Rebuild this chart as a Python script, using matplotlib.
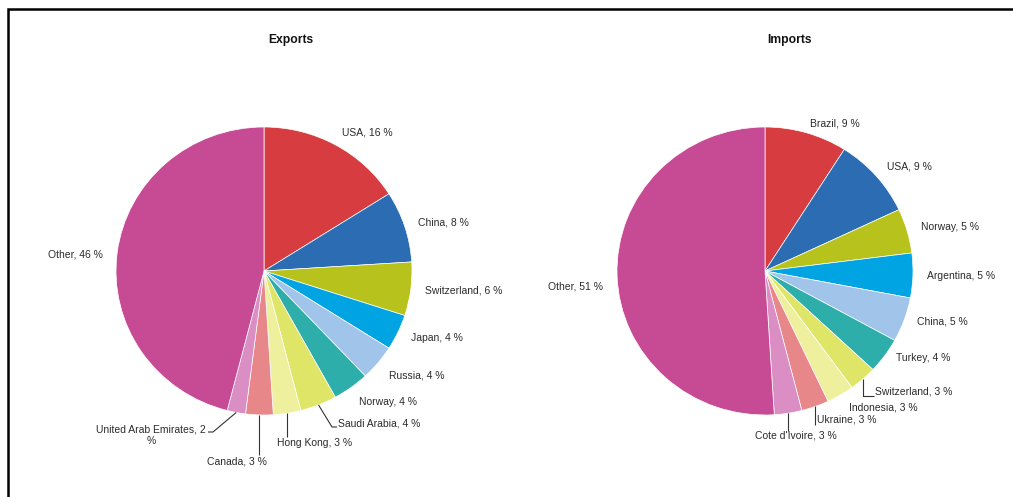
import numpy as np
import matplotlib
matplotlib.use('Agg')
import matplotlib.pyplot as plt

plt.rcParams['font.family'] = ['Liberation Sans', 'DejaVu Sans']

# partner shares in percent, clockwise from 12 o'clock
export_names = ['USA', 'China', 'Switzerland', 'Japan', 'Russia', 'Norway',
                'Saudi Arabia', 'Hong Kong', 'Canada', 'United Arab Emirates', 'Other']
export_share = [16, 8, 6, 4, 4, 4, 4, 3, 3, 2, 46]

import_names = ['Brazil', 'USA', 'Norway', 'Argentina', 'China', 'Turkey',
                'Switzerland', 'Indonesia', 'Ukraine', "Cote d'Ivoire", 'Other']
import_share = [9, 9, 5, 5, 5, 4, 3, 3, 3, 3, 51]

colors = ['#d63c40', '#2b6cb3', '#b8c21c', '#00a4e2', '#a1c4ea', '#2eaeaa',
          '#dfe566', '#eef09e', '#e8878a', '#da8ec4', '#c64b94']

W, H = 1013, 497
K = 148 / 144.0      # pies come out a touch wider than tall
R = 148
TXT = '#2b2b2b'


def Y(py):
    return (H - py) * K


fig = plt.figure(figsize=(W / 100, H / 100), dpi=100)
ax = fig.add_axes([0, 0, 1, 1])


def edge_pt(cx, cy, ang, rr):
    a = np.radians(ang)
    return cx + rr * np.cos(a), Y(cy) + rr * np.sin(a)


def draw_pie(names, share, cx, cy, title, tx, special):
    wedges, _ = ax.pie(share, colors=colors, startangle=90, counterclock=False,
                       center=(cx, Y(cy)), radius=R, frame=True,
                       wedgeprops=dict(edgecolor='white', linewidth=0.5))
    ax.text(tx, Y(40), title, ha='center', va='center', fontsize=8.7,
            fontweight='bold', color='#111111')
    for w, name, val in zip(wedges, names, share):
        mid = (w.theta1 + w.theta2) / 2
        lab = f'{name}, {val} %'
        if name in special:
            sp = special[name]
            ex, ey = edge_pt(cx, cy, mid, R)
            if 'path' in sp:
                xs = [ex] + [p[0] if p[0] is not None else ex for p in sp['path']]
                ys = [ey] + [Y(p[1]) for p in sp['path']]
                ax.plot(xs, ys, color='#333333', lw=0.8, solid_capstyle='butt')
            if 'text' in sp:
                lab = sp['text']
            ax.text(sp['xy'][0], Y(sp['xy'][1]), lab, ha=sp['ha'], va='center',
                    fontsize=7.5, color=TXT, multialignment='center',
                    linespacing=1.15)
            continue
        lx, ly = edge_pt(cx, cy, mid, R + 14)
        dy = special.get('_nudge', {}).get(name, 0)
        ha = 'left' if np.cos(np.radians(mid)) > 0 else 'right'
        ax.text(lx, ly - dy * K, lab, ha=ha, va='center', fontsize=7.5, color=TXT)


exp_special = {
    'Saudi Arabia': dict(xy=(338, 424), ha='left', path=[(332, 427), (337, 427)]),
    'Hong Kong': dict(xy=(277, 443), ha='left', path=[(None, 437)]),
    'Canada': dict(xy=(267, 461), ha='right', path=[(None, 455)]),
    'United Arab Emirates': dict(xy=(151, 435), ha='center',
                                 text='United Arab Emirates, 2\n%',
                                 path=[(213, 432), (208, 432)]),
    '_nudge': {'Other': 3, 'Russia': 4, 'Norway': 3},
}
imp_special = {
    'Switzerland': dict(xy=(875, 392), ha='left', path=[(None, 396), (874, 396)]),
    'Indonesia': dict(xy=(849, 407), ha='left'),
    'Ukraine': dict(xy=(817, 420), ha='left', path=[(None, 425)]),
    "Cote d'Ivoire": dict(xy=(796, 436), ha='center', path=[(None, 431)]),
    '_nudge': {'Other': 11, 'Turkey': -6, 'Brazil': 4, 'China': -3},
}

draw_pie(export_names, export_share, 264, 271, 'Exports', 291, exp_special)
draw_pie(import_names, import_share, 765, 271, 'Imports', 790, imp_special)

# outer frame: top and left edges only
ax.plot([8, 8, W], [Y(H + 2), Y(9), Y(9)], color='black', lw=1.8,
        solid_joinstyle='miter', clip_on=False)

ax.set_xlim(0, W)
ax.set_ylim(0, H * K)
ax.set_aspect('auto')
ax.axis('off')

fig.savefig('out.png', dpi=100, facecolor='white')
